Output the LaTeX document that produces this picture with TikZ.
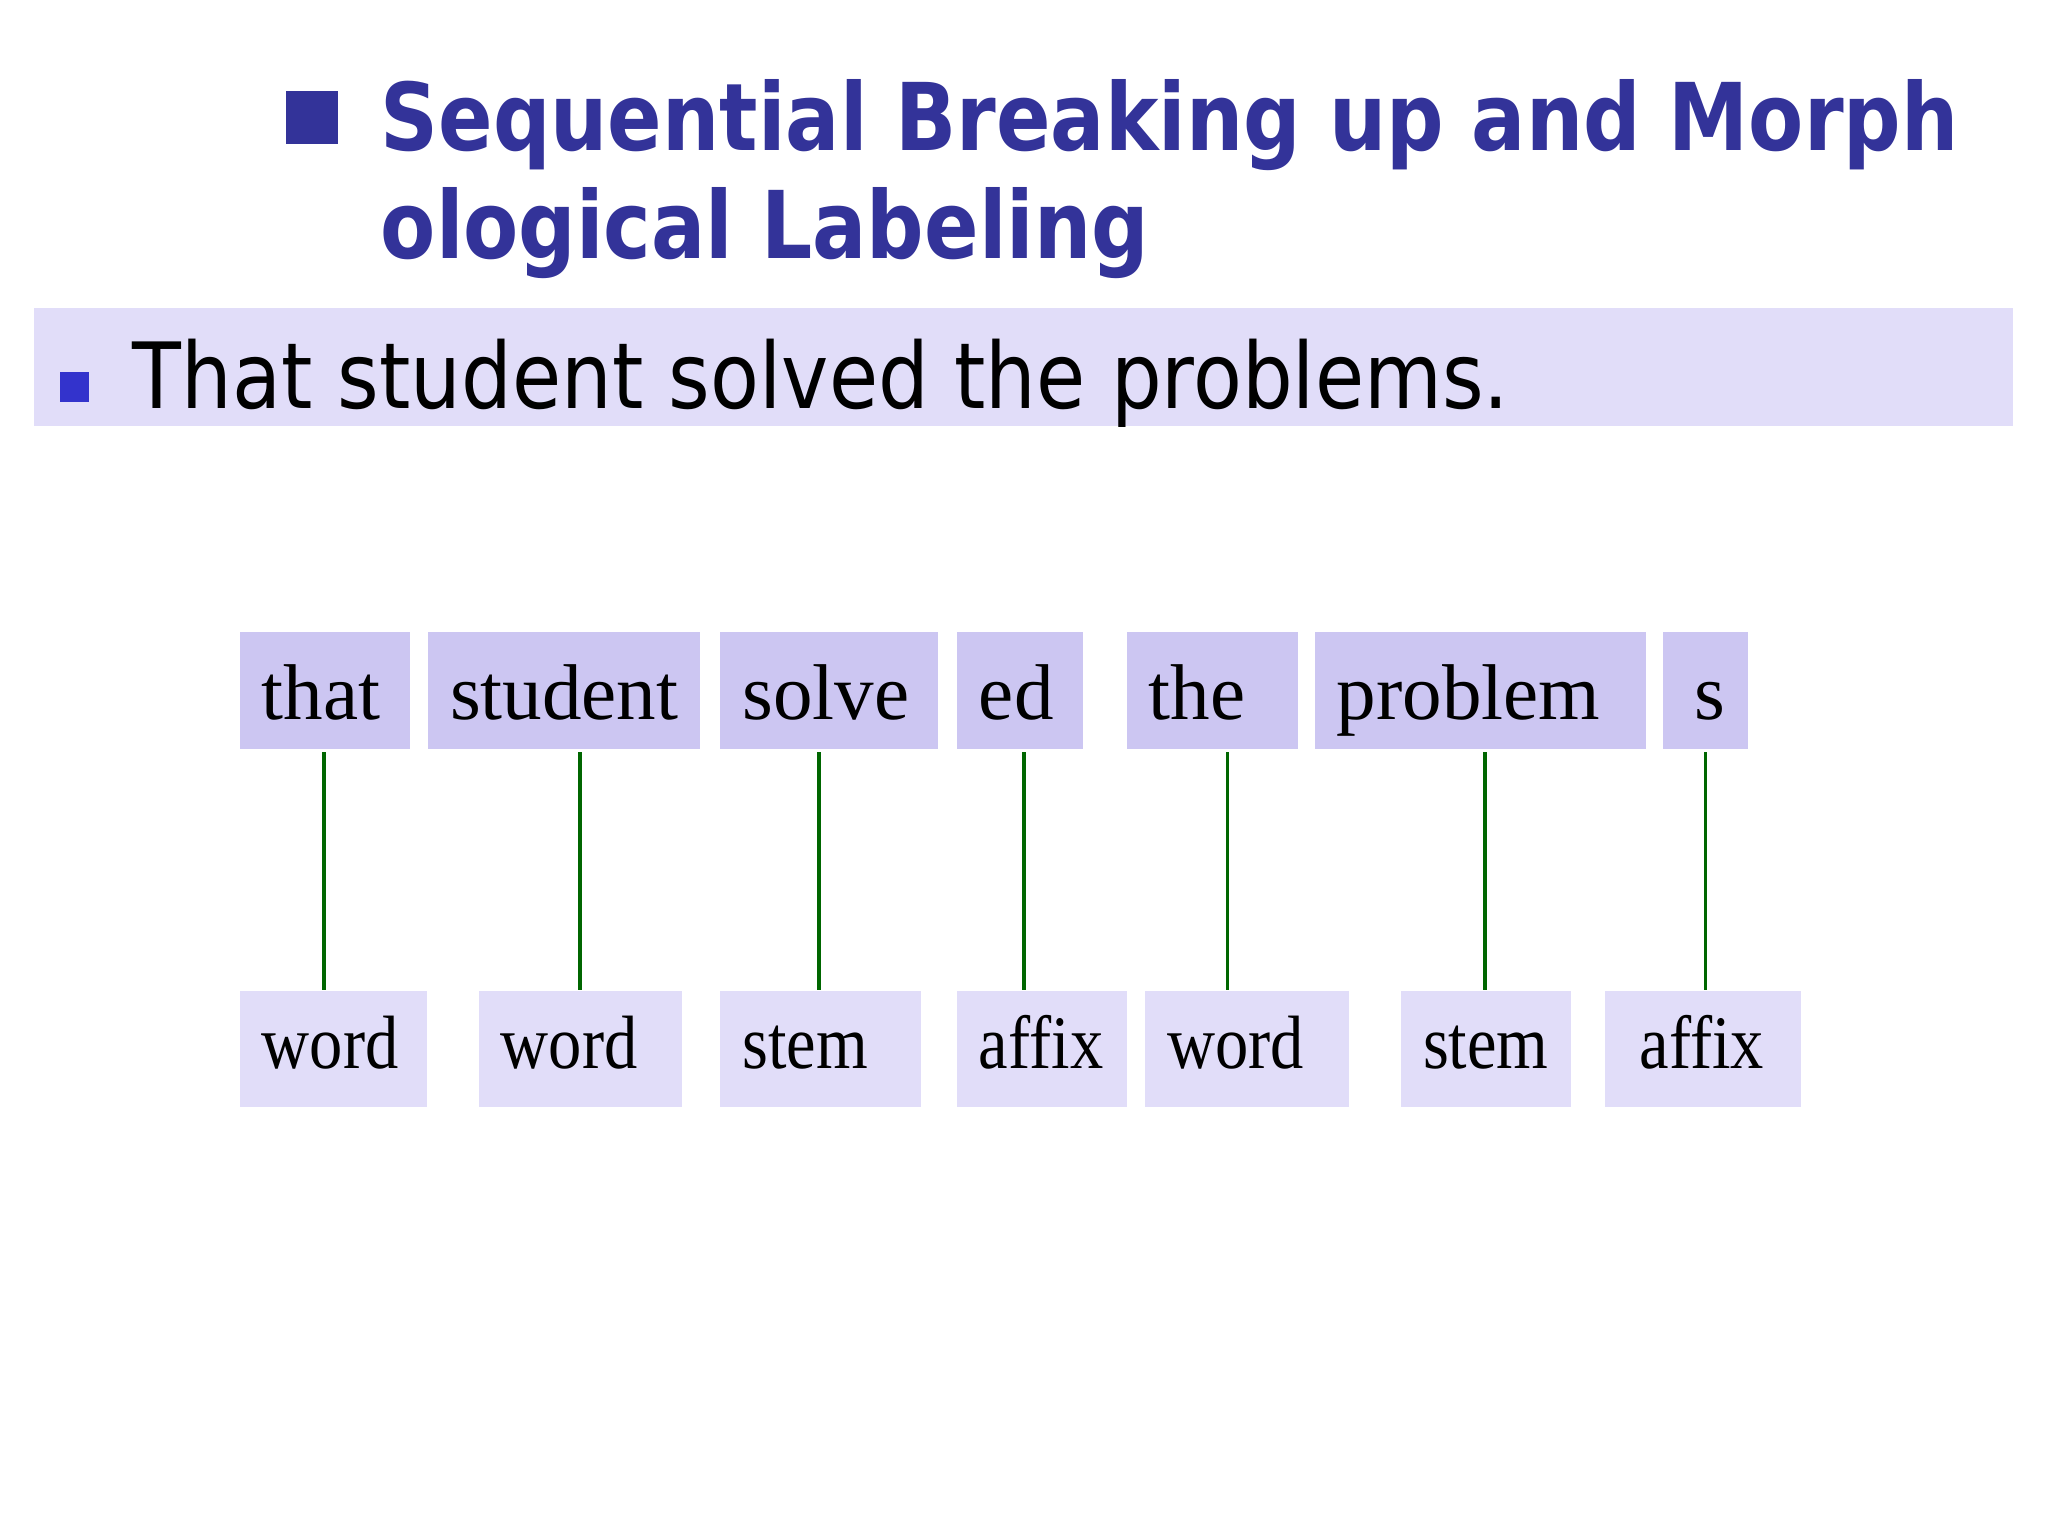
\documentclass[tikz,border=0pt]{standalone}
\usepackage{fontspec}
\setmainfont{Liberation Serif}
\newfontfamily\titlefont[FakeStretch=0.86]{DejaVu Sans}
\newfontfamily\sentfont[FakeStretch=0.875]{DejaVu Sans}
\newfontfamily\tagfont[FakeStretch=0.88]{Liberation Serif}
\definecolor{titleblue}{HTML}{333399}
\definecolor{dotblue}{HTML}{3333CC}
\definecolor{bandfill}{HTML}{E1DDF9}
\definecolor{topfill}{HTML}{CCC6F2}
\definecolor{tagfill}{HTML}{E1DDF9}
\definecolor{linkgreen}{HTML}{006600}
\newcommand\upx{0.013061cm}
\begin{document}
\begin{tikzpicture}[x=0.013061cm, y=-0.013061cm,
  morph/.style = {fill=topfill, anchor=north west, inner xsep=17*\upx, inner ysep=0pt,
    minimum height=90*\upx, text height=16.5pt, text depth=0pt, align=left,
    font=\fontsize{22.5}{27}\selectfont},
  tag/.style = {morph, fill=tagfill, minimum height=89*\upx, text height=11pt,
    font=\tagfont\fontsize{21.5}{26}\selectfont},
  link/.style = {draw=linkgreen, line width=0.9pt, shorten <=2*\upx}]
\useasboundingbox[fill=white] (0,0) rectangle (1568,1176);

% title
\fill[titleblue] (219,70) rectangle (259,110);
\node[anchor=base west, inner sep=0pt, text=titleblue, font=\titlefont\bfseries\fontsize{26.6}{31}\selectfont] (title1) at (291,115) {Sequential Breaking up and Morph};
\node[anchor=base west, inner sep=0pt, text=titleblue, font=\titlefont\bfseries\fontsize{26.6}{31}\selectfont] (title2) at (291,198) {ological Labeling};

% sentence
\fill[bandfill] (26,236) rectangle (1541,326);
\fill[dotblue] (46,285) rectangle (68,308);
\node[anchor=base west, inner sep=0pt, font=\sentfont\fontsize{26}{31}\selectfont] (sent) at (101,313) {That student solved the problems.};

% morphemes
\node[morph, text width=1.254cm] (1) at (183,483) {that};
\node[morph, text width=2.273cm] (2) at (327,483) {student};
\node[morph, text width=1.737cm] (3) at (551,483) {solve};
\node[morph, text width=0.823cm] (4) at (732,483) {ed};
\node[morph, text width=1.267cm] (5) at (862,483) {the};
\node[morph, text width=2.873cm] (6) at (1006,483) {problem};
\node[morph, inner xsep=24*\upx, text width=0.222cm] (7) at (1273,483) {s};

% labels
\node[tag, text width=1.424cm] (8) at (183,758) {word};
\node[tag, text width=1.593cm] (9) at (366,758) {word};
\node[tag, text width=1.567cm] (10) at (551,758) {stem};
\node[tag, text width=1.254cm] (11) at (732,758) {affix};
\node[tag, text width=1.593cm] (12) at (876,758) {word};
\node[tag, text width=1.254cm] (13) at (1072,758) {stem};
\node[tag, inner xsep=27*\upx, text width=1.254cm] (14) at (1228,758) {affix};

\draw[link] (1.south -| 248,0) -- (8.north -| 248,0);
\draw[link] (2.south -| 444,0) -- (9.north -| 444,0);
\draw[link] (3.south -| 627,0) -- (10.north -| 627,0);
\draw[link] (4.south -| 784,0) -- (11.north -| 784,0);
\draw[link] (5.south -| 940,0) -- (12.north -| 940,0);
\draw[link] (6.south -| 1137,0) -- (13.north -| 1137,0);
\draw[link] (7.south -| 1306,0) -- (14.north -| 1306,0);

\end{tikzpicture}
\end{document}
